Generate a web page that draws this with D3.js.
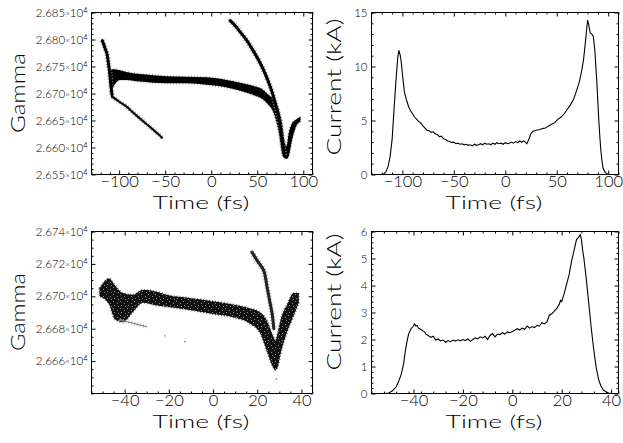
<!DOCTYPE html>
<html>
<head>
<meta charset="utf-8">
<script src="https://cdn.jsdelivr.net/npm/d3@7"></script>
<style>
body { margin: 0; background: #fff; }
text { font-family: Lato, "Liberation Sans", sans-serif; font-weight: 300; fill: #000; }
</style>
</head>
<body>
<div id="chart"></div>
<script>
// ---- top-left: gamma vs time (band edges) ----
var tlMainT  = [-109.5, -106.6, -99.4, -92.2, -77.6, -63.1, -48.5, -26.7, -4.9, 16.9, 31.5, 46, 57, 60.6, 68, 73.5, 77, 79.5, 81.7, 84.2, 87.8, 91.5, 96.9];
var tlMainHi = [26745, 26745, 26743, 26740, 26736, 26734, 26732, 26731, 26730, 26725, 26720, 26714, 26706, 26700, 26688, 26670, 26645, 26614, 26602, 26627, 26645, 26651, 26657];
var tlMainLo = [26705, 26712, 26725, 26725, 26722, 26720, 26719, 26719, 26716, 26711, 26705, 26697, 26688, 26682, 26663, 26627, 26590, 26581, 26579, 26584, 26614, 26636, 26648];
var tlEdgeT  = [-118.3, -116.5, -114.5, -113.2, -111.8, -110.4, -109, -107.4];
var tlEdgeG  = [26798, 26790, 26780, 26774, 26758, 26740, 26716, 26694];
var tlTailT  = [-107.4, -100, -92.2, -85, -77.6, -70, -63.1, -57, -53.5];
var tlTailG  = [26694, 26685, 26676, 26665, 26654, 26643, 26633, 26624, 26618];
var tlHighT  = [20.5, 24.2, 31, 38.8, 46, 53.3, 59, 64.2, 68, 71.5, 74.5, 76.9, 79.4];
var tlHighG  = [26835, 26829, 26815, 26798, 26778, 26756, 26735, 26712, 26692, 26670, 26643, 26614, 26584];

// ---- top-right: current profile ----
var trT = [-130, -120, -118, -116, -114, -112, -110, -108, -106, -104.5, -103.4, -102, -101, -99.5, -98, -96, -94, -92, -90, -88, -86, -84, -82, -80, -78, -76, -74, -72, -70, -68, -66, -64, -62, -60, -58, -56, -54, -52, -50, -48, -46, -44, -42, -40, -38, -36, -34, -32, -30, -28, -26, -24, -22, -20, -18, -16, -14, -12, -10, -8, -6, -4, -2, 0, 2, 4, 6, 8, 10, 12, 14, 16, 18, 20, 21, 23, 25, 27, 30, 33, 36, 39, 42, 45, 48, 51, 54, 57, 60, 63, 66, 68, 70, 72, 74, 76, 78, 79, 80, 81, 82.5, 84, 85.5, 87, 88, 89, 90, 91, 92, 93, 94, 95, 97, 99, 101, 104];
var trI = [0, 0, 0.05, 0.25, 0.7, 1.6, 3.2, 6.2, 9.0, 10.8, 11.5, 11.0, 10.3, 8.9, 7.6, 6.9, 6.3, 5.9, 5.6, 5.3, 5.1, 4.9, 4.75, 4.5, 4.3, 4.1, 4.05, 3.9, 3.95, 3.75, 3.7, 3.5, 3.55, 3.3, 3.25, 3.1, 3.05, 2.95, 3.0, 2.85, 2.9, 2.8, 2.85, 2.75, 2.8, 2.7, 2.75, 2.65, 2.8, 2.7, 2.75, 2.85, 2.75, 2.9, 2.8, 2.85, 2.75, 2.9, 2.8, 2.95, 2.85, 2.9, 2.8, 2.95, 2.85, 2.9, 3.0, 2.9, 3.05, 2.95, 3.1, 3.0, 3.1, 2.95, 2.85, 3.3, 3.8, 4.0, 4.1, 4.15, 4.25, 4.3, 4.5, 4.65, 4.8, 5.1, 5.3, 5.6, 6.0, 6.4, 6.9, 7.4, 8.0, 8.6, 9.5, 10.6, 12.4, 13.4, 14.3, 13.9, 13.1, 13.0, 12.8, 11.5, 10.0, 8.5, 6.6, 4.8, 3.3, 2.1, 1.2, 0.6, 0.2, 0.05, 0, 0];

// ---- bottom-left: gamma vs time ----
var blMainT  = [-51.4, -47, -44.5, -40.8, -36.2, -31.7, -26, -21, -10.5, 0, 9, 16.8, 21.4, 24.4, 26.7, 28.2, 29.5, 30.5, 33.5, 36.5, 38.8];
var blMainHi = [26705, 26711, 26707, 26702, 26701, 26704, 26703, 26701, 26699, 26697, 26695, 26692.5, 26690, 26685, 26677, 26673, 26679, 26685, 26695, 26702, 26702];
var blMainLo = [26700, 26695, 26686, 26684, 26690.5, 26696, 26694.5, 26693.5, 26691.5, 26689, 26687, 26683, 26677, 26666, 26657.5, 26654.5, 26657.5, 26664, 26678, 26688, 26696];
var blHighT  = [17.6, 20, 22.9, 24.4, 25.5, 26.7, 27.5];
var blHighG  = [26727.3, 26722, 26716, 26706, 26698, 26689.5, 26680];
var blTailT  = [-42.3, -39, -36.2, -33, -30.1];
var blTailG  = [26685.4, 26684.3, 26683.4, 26682.2, 26681.3];
var blDotT   = [-21.8, -12.7, 28.6];
var blDotG   = [26675.6, 26672, 26649];

// ---- bottom-right: current profile ----
var brT = [-52.3, -50, -48.5, -47, -46, -45, -44, -43.5, -42.8, -42, -41, -40, -39.6, -39, -38.5, -38, -37, -36, -35.5, -35, -34, -33, -32, -31, -30, -29, -28, -27, -26, -25, -24, -23, -22, -21, -20, -19, -18, -17, -16, -15, -14, -13, -12, -11, -10, -9, -8, -7, -6, -5, -4, -3, -2, -1, 0, 1, 2, 3, 4, 5, 6, 7, 8, 9, 10, 11, 12, 13, 14, 15, 16, 17, 18, 19, 19.5, 20, 21, 22, 23, 24, 25, 26, 27, 27.5, 28, 28.5, 29, 29.5, 30, 31, 32, 33, 34, 35, 36, 37, 38, 39, 40];
var brI = [0, 0.02, 0.1, 0.25, 0.45, 0.7, 1.1, 1.45, 1.85, 2.2, 2.4, 2.5, 2.58, 2.5, 2.52, 2.42, 2.38, 2.3, 2.28, 2.2, 2.15, 2.08, 2.12, 1.98, 2.02, 1.95, 1.98, 1.9, 1.96, 1.92, 1.98, 1.94, 1.99, 1.95, 2.0, 1.96, 2.02, 1.93, 2.0, 2.06, 2.02, 2.1, 2.06, 2.12, 2.0, 2.15, 2.22, 2.1, 2.2, 2.18, 2.25, 2.2, 2.28, 2.25, 2.3, 2.34, 2.4, 2.35, 2.42, 2.38, 2.5, 2.42, 2.48, 2.44, 2.52, 2.5, 2.62, 2.58, 2.65, 2.9, 2.95, 3.05, 3.15, 3.3, 3.45, 3.4, 3.7, 4.05, 4.4, 4.9, 5.3, 5.7, 5.8, 5.88, 5.7, 5.3, 5.0, 4.6, 4.2, 3.3, 2.4, 1.6, 0.95, 0.5, 0.25, 0.12, 0.06, 0.02, 0];

// ticks
var tlYTicks = d3.range(26550, 26851, 50);
var blYTicks = d3.range(26660, 26741, 20);
var trYTicks = [0, 5, 10, 15];
var brYTicks = [0, 1, 2, 3, 4, 5, 6];
var topXTicks = [-100, -50, 0, 50, 100];
var botXTicks = [-40, -20, 0, 20, 40];

var W = 623, H = 443;
var svg = d3.select('#chart').append('svg').attr('width', W).attr('height', H);
var defs = svg.append('defs');

// speckle pattern for the sparser particle cloud
var pat = defs.append('pattern').attr('id', 'speck').attr('patternUnits', 'userSpaceOnUse')
  .attr('width', 7).attr('height', 7);
pat.append('rect').attr('width', 7).attr('height', 7).attr('fill', '#111');
[[1, 0], [5, 2], [2, 4], [6, 5]].forEach(function(p) {
  pat.append('rect').attr('x', p[0]).attr('y', p[1]).attr('width', 1).attr('height', 1).attr('fill', '#888');
});

function minorRange(a, b, step, majors) {
  var out = [];
  for (var v = a; v <= b + 1e-9; v += step) {
    var r = Math.round(v * 1000) / 1000;
    if (majors.indexOf(r) < 0) out.push(r);
  }
  return out;
}

function fmtX(d) { return (d < 0 ? '\u2212' : '') + Math.abs(d); }

function panel(o) {
  var g = svg.append('g');
  var x = d3.scaleLinear().domain(o.xd).range([o.l, o.r]);
  var y = d3.scaleLinear().domain(o.yd).range([o.b, o.t]);
  var cid = 'clip' + o.id;
  defs.append('clipPath').attr('id', cid).append('rect')
    .attr('x', o.l).attr('y', o.t).attr('width', o.r - o.l).attr('height', o.b - o.t);
  var plot = g.append('g').attr('clip-path', 'url(#' + cid + ')');

  var xMinor = minorRange(o.xd[0], o.xd[1], o.xm, o.xt);
  var yMinor = minorRange(o.yd[0], o.yd[1], o.ym, o.yt);

  function ax(gen, pos, vals, len, fmt) {
    var a = g.append('g').attr('transform', pos)
      .call(gen.tickValues(vals).tickSizeInner(-len).tickSizeOuter(0).tickPadding(3).tickFormat(fmt));
    a.select('.domain').remove();
    a.attr('font-family', null).attr('font-size', null);
    a.selectAll('.tick line').attr('stroke', '#000');
    return a;
  }
  var none = function() { return ''; };
  // bottom
  var bx = ax(d3.axisBottom(x), 'translate(0,' + o.b + ')', o.xt, 4, fmtX);
  bx.selectAll('text').style('font-size', '16.5px').attr('y', 1).attr('dy', '0.7em');
  ax(d3.axisBottom(x), 'translate(0,' + o.b + ')', xMinor, 2, none);
  ax(d3.axisTop(x), 'translate(0,' + o.t + ')', o.xt, 4, none);
  ax(d3.axisTop(x), 'translate(0,' + o.t + ')', xMinor, 2, none);
  // left
  var ly = ax(d3.axisLeft(y), 'translate(' + o.l + ',0)', o.yt, 4, o.yfmt);
  ly.selectAll('text').style('font-size', '11.5px').attr('x', -4);
  ax(d3.axisLeft(y), 'translate(' + o.l + ',0)', yMinor, 2, none);
  ax(d3.axisRight(y), 'translate(' + o.r + ',0)', o.yt, 4, none);
  ax(d3.axisRight(y), 'translate(' + o.r + ',0)', yMinor, 2, none);

  g.append('rect').attr('x', o.l).attr('y', o.t).attr('width', o.r - o.l).attr('height', o.b - o.t)
    .attr('fill', 'none').attr('stroke', '#000').attr('stroke-width', 1);

  g.append('text').attr('x', (o.l + o.r) / 2 - 1).attr('y', o.b + 34.5)
    .attr('text-anchor', 'middle').style('font-size', '18px')
    .attr('textLength', 97).attr('lengthAdjust', 'spacingAndGlyphs')
    .text('Time  (fs)');
  g.append('text').attr('transform', 'translate(' + o.yx + ',' + o.yc + ') rotate(-90)')
    .attr('text-anchor', 'middle').style('font-size', '20px')
    .attr('textLength', o.ylen).attr('lengthAdjust', 'spacingAndGlyphs')
    .text(o.ylab);

  return { plot: plot, x: x, y: y, left: ly };
}

function sciLabels(sel) {
  sel.selectAll('.tick text').each(function(d) {
    var t = d3.select(this).text('');
    t.append('tspan').text((d / 1e4).toFixed(3));
    t.append('tspan').style('font-size', '8px').attr('dy', -1).text('\u00d7');
    t.append('tspan').attr('dy', 1).text('10');
    t.append('tspan').style('font-size', '7.5px').attr('dy', -4).text('4');
  });
}

function band(p, T, lo, hi, fill, edge) {
  var data = T.map(function(t, i) { return [t, lo[i], hi[i]]; });
  var area = d3.area().curve(d3.curveMonotoneX)
    .x(function(d) { return p.x(d[0]); })
    .y0(function(d) { return p.y(d[1]); })
    .y1(function(d) { return p.y(d[2]); });
  p.plot.append('path').datum(data).attr('d', area)
    .attr('fill', 'none').attr('stroke', edge).attr('stroke-width', 2).attr('stroke-dasharray', '1,2');
  p.plot.append('path').datum(data).attr('d', area).attr('fill', fill);
}

function streak(p, T, G, w, halo, core) {
  var data = T.map(function(t, i) { return [t, G[i]]; });
  var line = d3.line().curve(d3.curveCatmullRom)
    .x(function(d) { return p.x(d[0]); })
    .y(function(d) { return p.y(d[1]); });
  p.plot.append('path').datum(data).attr('d', line).attr('fill', 'none')
    .attr('stroke', halo).attr('stroke-width', w + 2.5).attr('stroke-dasharray', '1,2');
  p.plot.append('path').datum(data).attr('d', line).attr('fill', 'none')
    .attr('stroke', core).attr('stroke-width', w).attr('stroke-linecap', 'round');
}

function curve(p, T, I) {
  var data = T.map(function(t, i) { return [t, I[i]]; });
  p.plot.append('path').datum(data)
    .attr('d', d3.line().x(function(d) { return p.x(d[0]); }).y(function(d) { return p.y(d[1]); }))
    .attr('fill', 'none').attr('stroke', '#000').attr('stroke-width', 1.1);
}

// top-left
var tl = panel({ id: 'tl', l: 91.5, r: 312.5, t: 12.5, b: 174.5, xd: [-130, 110], yd: [26550, 26850],
  xt: topXTicks, xm: 10, yt: tlYTicks, ym: 10, yfmt: function(d) { return d; },
  ylab: 'Gamma', yx: 25, yc: 93, ylen: 80 });
sciLabels(tl.left);
band(tl, tlMainT, tlMainLo, tlMainHi, '#000', '#999');
streak(tl, tlEdgeT, tlEdgeG, 3, '#999', '#000');
streak(tl, tlTailT, tlTailG, 2.2, '#aaa', '#111');
streak(tl, tlHighT, tlHighG, 3, '#999', '#000');

// top-right
var tr = panel({ id: 'tr', l: 371.5, r: 618.5, t: 12.5, b: 174.5, xd: [-130, 110], yd: [0, 15],
  xt: topXTicks, xm: 10, yt: trYTicks, ym: 1, yfmt: function(d) { return d; },
  ylab: 'Current  (kA)', yx: 341, yc: 87, ylen: 137 });
curve(tr, trT, trI);

// bottom-left
var bl = panel({ id: 'bl', l: 91.5, r: 312.5, t: 231.5, b: 393.5, xd: [-55, 45], yd: [26640, 26740],
  xt: botXTicks, xm: 5, yt: blYTicks, ym: 5, yfmt: function(d) { return d; },
  ylab: 'Gamma', yx: 25, yc: 312, ylen: 78 });
sciLabels(bl.left);
band(bl, blMainT, blMainLo, blMainHi, 'url(#speck)', '#777');
streak(bl, blHighT, blHighG, 3, '#aaa', '#222');
streak(bl, blTailT, blTailG, 1, '#bbb', '#777');
bl.plot.selectAll('circle.dot').data(blDotT).enter().append('circle')
  .attr('cx', function(d) { return bl.x(d); })
  .attr('cy', function(d, i) { return bl.y(blDotG[i]); })
  .attr('r', 0.7).attr('fill', '#333');

// bottom-right
var br = panel({ id: 'br', l: 371.5, r: 618.5, t: 231.5, b: 393.5, xd: [-57, 43], yd: [0, 6],
  xt: botXTicks, xm: 5, yt: brYTicks, ym: 0.2, yfmt: function(d) { return d; },
  ylab: 'Current  (kA)', yx: 341, yc: 302, ylen: 137 });
curve(br, brT, brI);
</script>
</body>
</html>
